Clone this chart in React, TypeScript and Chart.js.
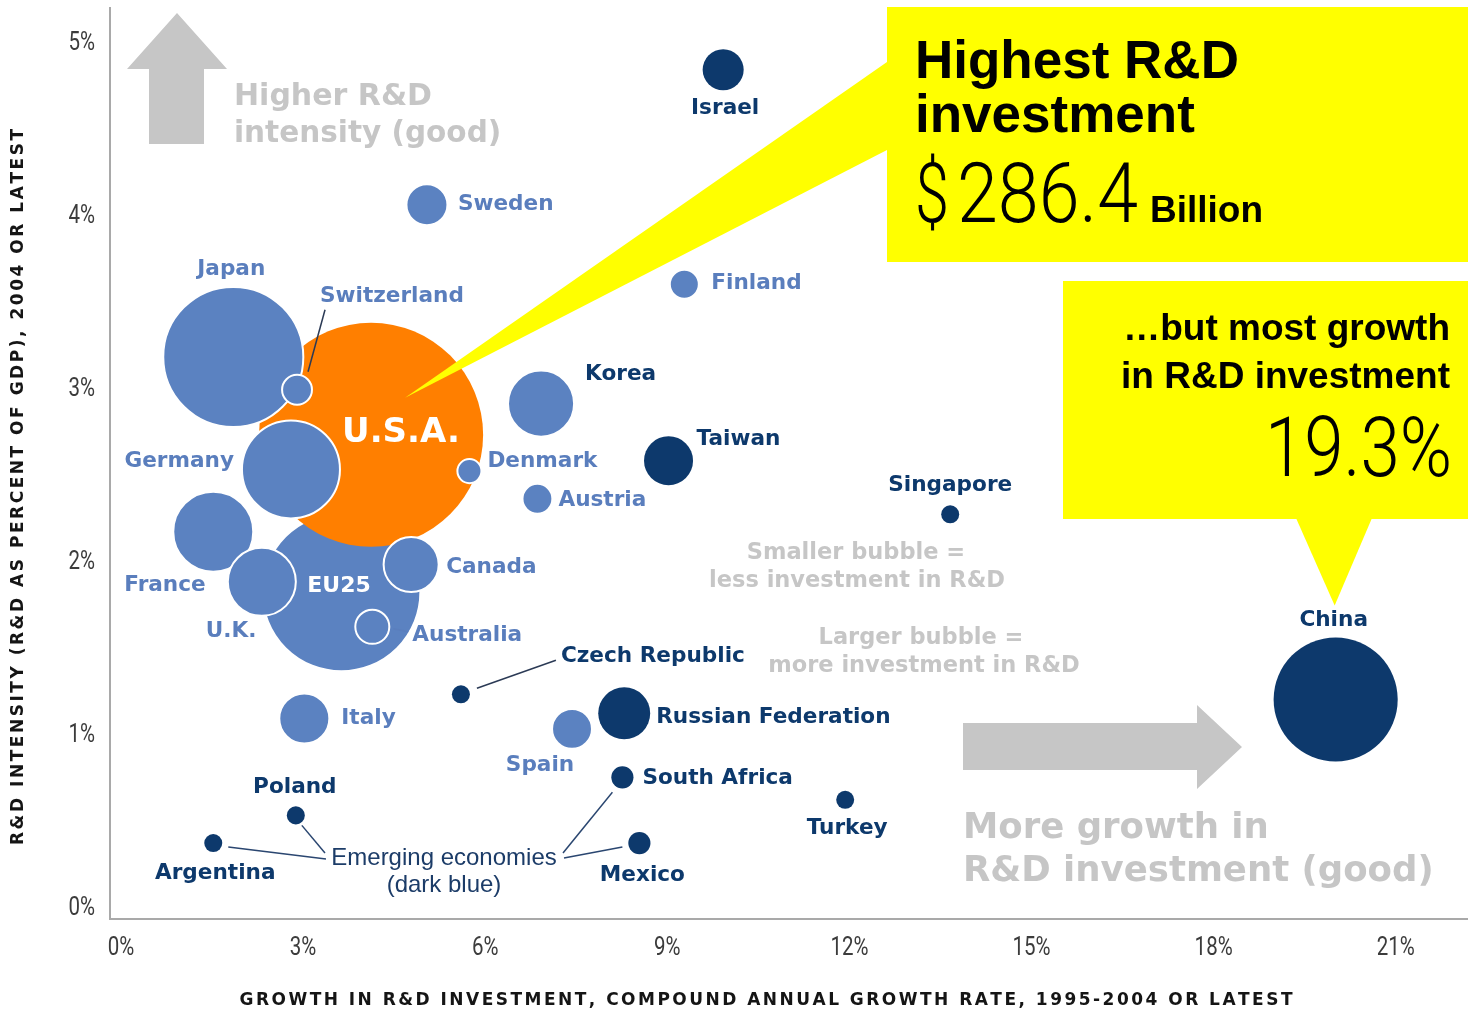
import React, { useEffect, useRef } from "react";
import { Chart, registerables } from "chart.js";

Chart.register(...registerables);

// ---------------- data ----------------
// drawing order matters (later points are drawn on top)
const countries = [
  "EU25", "U.S.A.", "Japan", "France", "U.K.", "Germany", "Canada", "Australia",
  "Switzerland", "Denmark", "Korea", "Sweden", "Finland", "Austria", "Italy", "Spain",
  "Israel", "Taiwan", "Singapore", "China", "Czech Republic", "Russian Federation",
  "South Africa", "Poland", "Argentina", "Mexico", "Turkey",
];
// growth in R&D investment, CAGR 1995-2004 (%)
const growthRate = [
  3.63, 4.12, 1.85, 1.52, 2.32, 2.8, 4.78, 4.14,
  2.9, 5.74, 6.92, 5.04, 9.28, 6.86, 3.02, 7.43,
  9.92, 9.02, 13.66, 20.01, 5.6, 8.29,
  8.26, 2.88, 1.52, 8.54, 11.93,
];
// R&D intensity, R&D as % of GDP
const rdIntensity = [
  1.82, 2.73, 3.18, 2.17, 1.88, 2.53, 1.98, 1.62,
  2.99, 2.52, 2.91, 4.06, 3.6, 2.36, 1.09, 1.03,
  4.84, 2.58, 2.27, 1.2, 1.23, 1.12,
  0.75, 0.53, 0.37, 0.37, 0.62,
];
// R&D investment, US$ billions (bubble area)
const rdInvestment = [
  142.5, 286.4, 111.9, 36.5, 26.4, 54.8, 17.3, 6.6,
  5.1, 3.3, 24.9, 9.6, 4.8, 5.1, 14.3, 9.1,
  9.6, 13.7, 1.85, 87.8, 1.85, 15.4,
  2.8, 1.85, 1.85, 2.8, 1.85,
];
const economyGroup = [
  "developed", "usa", "developed", "developed", "developed", "developed", "developed", "developed",
  "developed", "developed", "developed", "developed", "developed", "developed", "developed", "developed",
  "emerging", "emerging", "emerging", "emerging", "emerging", "emerging",
  "emerging", "emerging", "emerging", "emerging", "emerging",
];
const xTicks = [0, 3, 6, 9, 12, 15, 18, 21];
const yTicks = [0, 1, 2, 3, 4, 5];

const xAxisTitle = "GROWTH IN R&D INVESTMENT, COMPOUND ANNUAL GROWTH RATE, 1995-2004 OR LATEST";
const yAxisTitle = "R&D INTENSITY (R&D AS PERCENT OF GDP), 2004 OR LATEST";
const upArrowText = ["Higher R&D", "intensity (good)"];
const rightArrowText = ["More growth in", "R&D investment (good)"];
const smallBubbleText = ["Smaller bubble =", "less investment in R&D"];
const largeBubbleText = ["Larger bubble =", "more investment in R&D"];
const emergingText = ["Emerging economies", "(dark blue)"];
const topInvestorNote = ["Highest R&D", "investment"];
const topInvestorValue = "$286.4";
const topInvestorUnit = "Billion";
const fastestGrowthNote = ["\u2026but most growth", "in R&D investment"];
const fastestGrowthValue = "19.3%";

// ---------------- style / layout ----------------
const W = 1468;
const H = 1012;
const X_MIN = -0.181;
const X_MAX = 22.19;
const Y_MIN = -0.069;
const Y_MAX = 5.197;
const RADIUS_PER_SQRT_BILLION = 6.62;

const LIGHT_BLUE = "#5b82c1";
const NAVY = "#0d396c";
const ORANGE = "#ff7f00";
const YELLOW = "#ffff00";
const GREY = "#c6c6c6";
const LABEL_BLUE = "#5a7ebd";
const AXIS = "#a9a9a9";

const SANS_BOLD = '"DejaVu Sans", "Liberation Sans", sans-serif';
const HELV = '"Liberation Sans", Arial, sans-serif';
const LIGHT = 'Roboto, "Liberation Sans", sans-serif';

const GROUP_FILL: Record<string, string> = { developed: LIGHT_BLUE, usa: ORANGE, emerging: NAVY };
const GROUP_LABEL: Record<string, string> = { developed: LABEL_BLUE, usa: "#ffffff", emerging: NAVY };

type LL = { dx: number; dy: number; align?: CanvasTextAlign; color?: string; font?: string };
const labelLayout: Record<string, LL> = {
  Israel: { dx: 2, dy: 39, align: "center" },
  Sweden: { dx: 31, dy: 0 },
  Finland: { dx: 27, dy: -1 },
  Japan: { dx: -2, dy: -88, align: "center" },
  Switzerland: { dx: 23, dy: -93 },
  "U.S.A.": { dx: -29, dy: -2, color: "#ffffff", font: `bold 34px ${SANS_BOLD}` },
  Korea: { dx: 44, dy: -29, color: NAVY },
  Germany: { dx: -57, dy: -8, align: "right" },
  Denmark: { dx: 18, dy: -10 },
  Taiwan: { dx: 28, dy: -21 },
  Austria: { dx: 21, dy: 2 },
  Singapore: { dx: 0, dy: -29, align: "center" },
  France: { dx: -89, dy: 54 },
  EU25: { dx: -34, dy: -6, color: "#ffffff", font: `bold 22px ${SANS_BOLD}` },
  Canada: { dx: 35, dy: 3 },
  "U.K.": { dx: -56, dy: 50 },
  Australia: { dx: 40, dy: 9 },
  "Czech Republic": { dx: 100, dy: -38 },
  China: { dx: -2, dy: -79, align: "center" },
  Italy: { dx: 37, dy: 0 },
  "Russian Federation": { dx: 32, dy: 4 },
  Spain: { dx: -32, dy: 37, align: "center" },
  "South Africa": { dx: 20, dy: 1 },
  Poland: { dx: -1, dy: -28, align: "center" },
  Turkey: { dx: 2, dy: 29, align: "center" },
  Argentina: { dx: 2, dy: 30, align: "center" },
  Mexico: { dx: 3, dy: 32, align: "center" },
};

const leaderLines = [
  { country: "Switzerland", a: [11, -18], b: [28, -80], color: "#2b3a55" },
  { country: "Australia", a: [21, 2], b: [36, 5], color: LABEL_BLUE },
  { country: "Czech Republic", a: [16, -6], b: [95, -34], color: "#2b3a55" },
];
const EMERGING_ANCHOR = { x: 444, y: 858 };
const emergingLeaders = [
  { country: "Argentina", a: [15, 4], to: [-118, 1] },
  { country: "Poland", a: [6, 10], to: [-119, -5] },
  { country: "South Africa", a: [-10, 15], to: [119, -5] },
  { country: "Mexico", a: [-17, 4], to: [120, 0] },
];

const bubbleRadius = (billions: number) => RADIUS_PER_SQRT_BILLION * Math.sqrt(billions);

// ---------------- drawing helpers ----------------
function spacedText(
  ctx: CanvasRenderingContext2D, text: string, cx: number, cy: number,
  width: number, font: string, color: string, angle = 0
) {
  ctx.save();
  ctx.font = font;
  ctx.fillStyle = color;
  ctx.textAlign = "left";
  ctx.textBaseline = "middle";
  const chars = Array.from(text);
  const widths = chars.map((c) => ctx.measureText(c).width);
  const natural = widths.reduce((s, w) => s + w, 0);
  const gap = (width - natural) / (chars.length - 1);
  ctx.translate(cx, cy);
  ctx.rotate(angle);
  let x = -width / 2;
  chars.forEach((c, i) => {
    ctx.fillText(c, x, 0);
    x += widths[i] + gap;
  });
  ctx.restore();
}

function fittedText(
  ctx: CanvasRenderingContext2D, text: string, x: number, y: number,
  width: number, font: string, color: string, align: "left" | "right" | "center" = "left",
  baseline: CanvasTextBaseline = "alphabetic"
) {
  ctx.save();
  ctx.font = font;
  ctx.fillStyle = color;
  ctx.textAlign = "left";
  ctx.textBaseline = baseline;
  const w = ctx.measureText(text).width;
  const s = width / w;
  ctx.translate(x, y);
  ctx.scale(s, 1);
  const start = align === "left" ? 0 : align === "right" ? -w : -w / 2;
  ctx.fillText(text, start, 0);
  ctx.restore();
}

function condensedText(ctx: CanvasRenderingContext2D, t: string, x: number, y: number, font: string, align: "left" | "right" | "center") {
  ctx.save();
  ctx.font = font;
  ctx.fillStyle = "#3c3c3c";
  ctx.textAlign = "left";
  ctx.textBaseline = "middle";
  const w = ctx.measureText(t).width;
  const s = 0.82;
  ctx.translate(x, y);
  ctx.scale(s, 1);
  const start = align === "left" ? 0 : align === "right" ? -w : -w / 2;
  ctx.fillText(t, start, 0);
  ctx.restore();
}

function poly(ctx: CanvasRenderingContext2D, pts: number[][], color: string) {
  ctx.beginPath();
  pts.forEach(([x, y], i) => (i ? ctx.lineTo(x, y) : ctx.moveTo(x, y)));
  ctx.closePath();
  ctx.fillStyle = color;
  ctx.fill();
}

function line(ctx: CanvasRenderingContext2D, x1: number, y1: number, x2: number, y2: number, color: string, w = 1.5) {
  ctx.beginPath();
  ctx.moveTo(x1, y1);
  ctx.lineTo(x2, y2);
  ctx.strokeStyle = color;
  ctx.lineWidth = w;
  ctx.stroke();
}

function text(
  ctx: CanvasRenderingContext2D, t: string, x: number, y: number, font: string, color: string,
  align: CanvasTextAlign = "left", baseline: CanvasTextBaseline = "middle"
) {
  ctx.font = font;
  ctx.fillStyle = color;
  ctx.textAlign = align;
  ctx.textBaseline = baseline;
  ctx.fillText(t, x, y);
}

const overlayPlugin = {
  id: "overlay",
  beforeDatasetsDraw(chart: any) {
    const ctx: CanvasRenderingContext2D = chart.ctx;
    ctx.save();
    // up arrow
    poly(ctx, [[177, 13], [227, 69], [204, 69], [204, 144], [149, 144], [149, 69], [127, 69]], GREY);
    text(ctx, upArrowText[0], 234, 105, `bold 30px ${SANS_BOLD}`, GREY, "left", "alphabetic");
    text(ctx, upArrowText[1], 234, 142, `bold 29.5px ${SANS_BOLD}`, GREY, "left", "alphabetic");
    // right arrow
    poly(ctx, [[963, 723], [1197, 723], [1197, 705], [1242, 747], [1197, 789], [1197, 770], [963, 770]], GREY);
    text(ctx, rightArrowText[0], 963, 838, `bold 35.5px ${SANS_BOLD}`, GREY, "left", "alphabetic");
    text(ctx, rightArrowText[1], 963, 881, `bold 35.5px ${SANS_BOLD}`, GREY, "left", "alphabetic");
    // bubble size legend
    const lf = `bold 22.5px ${SANS_BOLD}`;
    text(ctx, smallBubbleText[0], 856, 553, lf, GREY, "center");
    text(ctx, smallBubbleText[1], 857, 581, lf, GREY, "center");
    text(ctx, largeBubbleText[0], 921, 638, lf, GREY, "center");
    text(ctx, largeBubbleText[1], 924, 666, lf, GREY, "center");
    ctx.restore();
  },
  afterDatasetsDraw(chart: any) {
    const ctx: CanvasRenderingContext2D = chart.ctx;
    const xs = chart.scales.x;
    const ys = chart.scales.y;
    const pos = (name: string) => {
      const i = countries.indexOf(name);
      return { x: xs.getPixelForValue(growthRate[i]), y: ys.getPixelForValue(rdIntensity[i]) };
    };
    ctx.save();

    // callout 1: highest investment (U.S.A.)
    const usa = pos("U.S.A.");
    poly(ctx, [[887, 62], [usa.x + 34, usa.y - 37], [887, 150]], YELLOW);
    ctx.fillStyle = YELLOW;
    ctx.fillRect(887, 7, W - 887, 255);
    text(ctx, topInvestorNote[0], 915, 78, `bold 53px ${HELV}`, "#000", "left", "alphabetic");
    text(ctx, topInvestorNote[1], 915, 132, `bold 53px ${HELV}`, "#000", "left", "alphabetic");
    fittedText(ctx, "$", 915, 222, 34, `300 83px ${LIGHT}`, "#000", "left");
    fittedText(ctx, topInvestorValue.slice(1), 957, 222, 181, `300 83px ${LIGHT}`, "#000", "left");
    text(ctx, topInvestorUnit, 1150, 222, `bold 37px ${HELV}`, "#000", "left", "alphabetic");

    // callout 2: most growth (China)
    const china = pos("China");
    ctx.fillStyle = YELLOW;
    ctx.fillRect(1063, 281, W - 1063, 238);
    poly(ctx, [[1296, 518], [1372, 518], [china.x - 1, china.y - 94]], YELLOW);
    text(ctx, fastestGrowthNote[0], 1450, 340, `bold 37px ${HELV}`, "#000", "right", "alphabetic");
    text(ctx, fastestGrowthNote[1], 1450, 388, `bold 37px ${HELV}`, "#000", "right", "alphabetic");
    fittedText(ctx, fastestGrowthValue, 1452, 476, 187, `300 83px ${LIGHT}`, "#000", "right");

    // leader lines
    leaderLines.forEach((l) => {
      const p = pos(l.country);
      line(ctx, p.x + l.a[0], p.y + l.a[1], p.x + l.b[0], p.y + l.b[1], l.color, 1.5);
    });
    emergingLeaders.forEach((l) => {
      const p = pos(l.country);
      line(ctx, p.x + l.a[0], p.y + l.a[1], EMERGING_ANCHOR.x + l.to[0], EMERGING_ANCHOR.y + l.to[1], "#2a4670", 1.5);
    });
    text(ctx, emergingText[0], EMERGING_ANCHOR.x, EMERGING_ANCHOR.y, `24px ${HELV}`, "#1c3c68", "center");
    text(ctx, emergingText[1], EMERGING_ANCHOR.x, EMERGING_ANCHOR.y + 27, `24px ${HELV}`, "#1c3c68", "center");

    // country labels
    countries.forEach((c, i) => {
      const l = labelLayout[c];
      if (!l) return;
      const p = pos(c);
      text(
        ctx, c, p.x + l.dx, p.y + l.dy, l.font || `bold 21.6px ${SANS_BOLD}`,
        l.color || GROUP_LABEL[economyGroup[i]], l.align || "left"
      );
    });

    // tick labels (positions from the chart's scales)
    const tf = `400 25px ${LIGHT}`;
    xs.ticks.forEach((t: any) => {
      condensedText(ctx, `${t.value}%`, xs.getPixelForValue(t.value), 949, tf, "center");
    });
    ys.ticks.forEach((t: any) => {
      condensedText(ctx, `${t.value}%`, xs.left - 15, ys.getPixelForValue(t.value) + 2, tf, "right");
    });

    // axis titles
    spacedText(ctx, xAxisTitle, 766, 1001, 1053, `bold 17px ${SANS_BOLD}`, "#151515");
    spacedText(ctx, yAxisTitle, 19, 487, 716, `bold 17px ${SANS_BOLD}`, "#151515", -Math.PI / 2);
    ctx.restore();
  },
};

export default function App() {
  const ref = useRef<HTMLCanvasElement | null>(null);
  useEffect(() => {
    if (!ref.current) return;
    const chart = new Chart(ref.current, {
      type: "bubble",
      data: {
        datasets: [
          {
            label: "R&D investment",
            data: countries.map((_, i) => ({
              x: growthRate[i],
              y: rdIntensity[i],
              r: bubbleRadius(rdInvestment[i]),
            })),
            backgroundColor: economyGroup.map((g) => GROUP_FILL[g]),
            borderColor: economyGroup.map((g) => (g === "developed" ? "#ffffff" : "rgba(0,0,0,0)")),
            borderWidth: economyGroup.map((g) => (g === "developed" ? 2 : 0)),
            clip: false,
          },
        ],
      },
      options: {
        responsive: false,
        animation: false,
        events: [],
        layout: { autoPadding: false, padding: { top: 8, left: 0, right: 0, bottom: 0 } },
        plugins: { legend: { display: false }, tooltip: { enabled: false } },
        scales: {
          x: {
            type: "linear",
            min: X_MIN,
            max: X_MAX,
            grid: { display: false, drawTicks: false, tickLength: 0 },
            border: { display: true, color: AXIS, width: 2 },
            ticks: { display: false },
            afterBuildTicks: (s: any) => {
              s.ticks = xTicks.map((v) => ({ value: v }));
            },
            afterFit: (s: any) => {
              s.height = H - 919;
            },
          },
          y: {
            type: "linear",
            min: Y_MIN,
            max: Y_MAX,
            grid: { display: false, drawTicks: false, tickLength: 0 },
            border: { display: true, color: AXIS, width: 2 },
            ticks: { display: false },
            afterBuildTicks: (s: any) => {
              s.ticks = yTicks.map((v) => ({ value: v }));
            },
            afterFit: (s: any) => {
              s.width = 110;
            },
          },
        },
      } as any,
      plugins: [overlayPlugin],
    });
    return () => chart.destroy();
  }, []);
  return (
    <div style={{ position: "fixed", left: 0, top: 0, width: W, height: H, background: "#ffffff" }}>
      <canvas ref={ref} width={W} height={H} style={{ width: W, height: H, display: "block" }} />
    </div>
  );
}
